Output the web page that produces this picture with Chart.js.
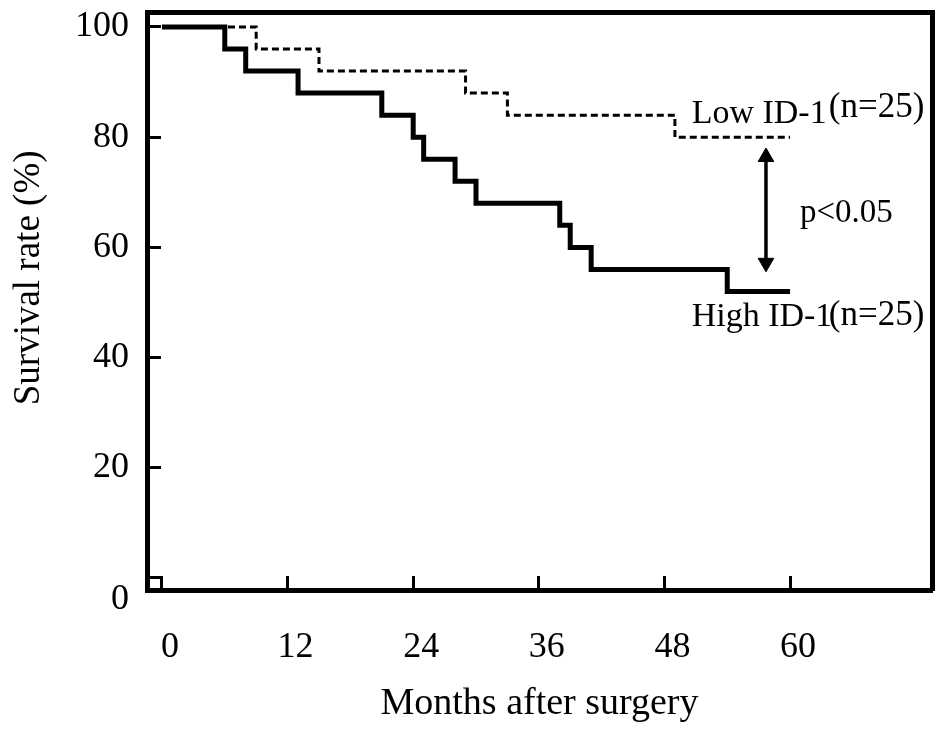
<!DOCTYPE html>
<html>
<head>
<meta charset="utf-8">
<script src="https://cdn.jsdelivr.net/npm/chart.js@4.4.1/dist/chart.umd.min.js"></script>
<style>
  html, body { margin: 0; padding: 0; background: #ffffff; }
  #wrap { width: 945px; height: 731px; }
</style>
</head>
<body>
<div id="wrap"><canvas id="km"></canvas></div>
<script>
// ---- data ----
const highMonths   = [0, 6, 8, 13, 21, 24, 25, 28, 30, 38, 39, 41, 54, 60];
const highSurvival = [100, 96, 92, 88, 84, 80, 76, 72, 68, 64, 60, 56, 52, 52];
const lowMonths    = [0, 9, 15, 29, 33, 49, 60];
const lowSurvival  = [100, 96, 92, 88, 84, 80, 80];
const xTickValues  = [0, 12, 24, 36, 48, 60];
const yTickValues  = [0, 20, 40, 60, 80, 100];
const arrowMonths   = [57.7, 57.7];
const arrowSurvival = [76.4, 57.2];

// ---- layout / style ----
const FONT = '"Liberation Serif", "Times New Roman", serif';
const X_MIN = -1.43, X_MAX = 73.56;
const Y_MIN = -2.18, Y_MAX = 102.72;

const annotations = [
  { text: 'Low ID-1',  month: 50.6,  survival: 82.6, size: 34 },
  { text: '(n=25)',    month: 63.7,  survival: 83.7, size: 35 },
  { text: 'High ID-1', month: 50.6,  survival: 45.7, size: 34 },
  { text: '(n=25)',    month: 63.7,  survival: 45.9, size: 35 },
  { text: 'p<0.05',    month: 60.95, survival: 64.6, size: 33 }
];

const toPoints = (xs, ys) => xs.map((v, i) => ({ x: v, y: ys[i] }));

const textPlugin = {
  id: 'kmText',
  afterDatasetsDraw(chart) {
    const { ctx, scales } = chart;
    ctx.save();
    ctx.fillStyle = '#000';
    ctx.textAlign = 'left';
    ctx.textBaseline = 'alphabetic';
    annotations.forEach(a => {
      ctx.font = a.size + 'px ' + FONT;
      ctx.fillText(a.text, scales.x.getPixelForValue(a.month), scales.y.getPixelForValue(a.survival));
    });
    ctx.restore();
  }
};

Chart.defaults.color = '#000';

const noPad = s => { s.paddingTop = 0; s.paddingBottom = 0; s.paddingLeft = 0; s.paddingRight = 0; };

const frameAxis = (pos, size) => ({
  type: 'linear',
  position: pos,
  display: true,
  min: pos === 'top' ? X_MIN : Y_MIN,
  max: pos === 'top' ? X_MAX : Y_MAX,
  ticks: { display: false },
  grid: { display: false, drawTicks: false },
  border: { display: true, color: '#000', width: 5 },
  afterFit: s => { if (pos === 'top') s.height = size; else s.width = size; noPad(s); }
});

new Chart(document.getElementById('km'), {
  type: 'line',
  data: {
    datasets: [
      {
        label: 'High ID-1 (n=25)',
        data: toPoints(highMonths, highSurvival),
        stepped: true,
        borderColor: '#000',
        borderWidth: 5,
        pointRadius: 0,
        fill: false
      },
      {
        label: 'Low ID-1 (n=25)',
        data: toPoints(lowMonths, lowSurvival),
        stepped: true,
        borderColor: '#000',
        borderWidth: 3,
        borderDash: [7, 4],
        pointRadius: 0,
        fill: false
      },
      {
        label: 'difference',
        data: toPoints(arrowMonths, arrowSurvival),
        borderColor: '#000',
        borderWidth: 3.5,
        pointStyle: 'triangle',
        pointRadius: 9,
        pointRotation: [0, 180],
        pointBackgroundColor: '#000',
        pointBorderColor: '#000',
        pointBorderWidth: 1,
        fill: false
      }
    ]
  },
  options: {
    responsive: true,
    maintainAspectRatio: false,
    animation: false,
    layout: { padding: 0 },
    plugins: { legend: { display: false }, tooltip: { enabled: false } },
    scales: {
      x: {
        type: 'linear',
        position: 'bottom',
        min: X_MIN,
        max: X_MAX,
        afterBuildTicks: s => { s.ticks = xTickValues.map(v => ({ value: v })); },
        afterFit: s => { s.height = 141; noPad(s); },
        border: { display: true, color: '#000', width: 5 },
        grid: { display: true, drawOnChartArea: false, drawTicks: true, tickLength: -14, tickWidth: 3, tickColor: '#000' },
        ticks: { color: '#000', font: { family: FONT, size: 36 }, padding: 50, labelOffset: 8, maxRotation: 0, autoSkip: false },
        title: { display: true, text: 'Months after surgery', color: '#000', font: { family: FONT, size: 38 }, padding: { top: 0, bottom: 4 } }
      },
      y: {
        type: 'linear',
        position: 'left',
        min: Y_MIN,
        max: Y_MAX,
        afterBuildTicks: s => { s.ticks = yTickValues.map(v => ({ value: v })); },
        afterFit: s => { s.width = 147; noPad(s); },
        border: { display: true, color: '#000', width: 5 },
        grid: { display: true, drawOnChartArea: false, drawTicks: true, tickLength: -14, tickWidth: 3, tickColor: '#000' },
        ticks: {
          color: '#000',
          font: { family: FONT, size: 36 },
          padding: 32,
          autoSkip: false,
          callback: v => (v === 0 ? ['', '0'] : String(v))
        },
        title: { display: true, text: '     Survival rate (%)', color: '#000', font: { family: FONT, size: 37 }, padding: { top: 7, bottom: 0 } }
      },
      x2: frameAxis('top', 12),
      y2: frameAxis('right', 13)
    }
  },
  plugins: [textPlugin]
});
</script>
</body>
</html>
